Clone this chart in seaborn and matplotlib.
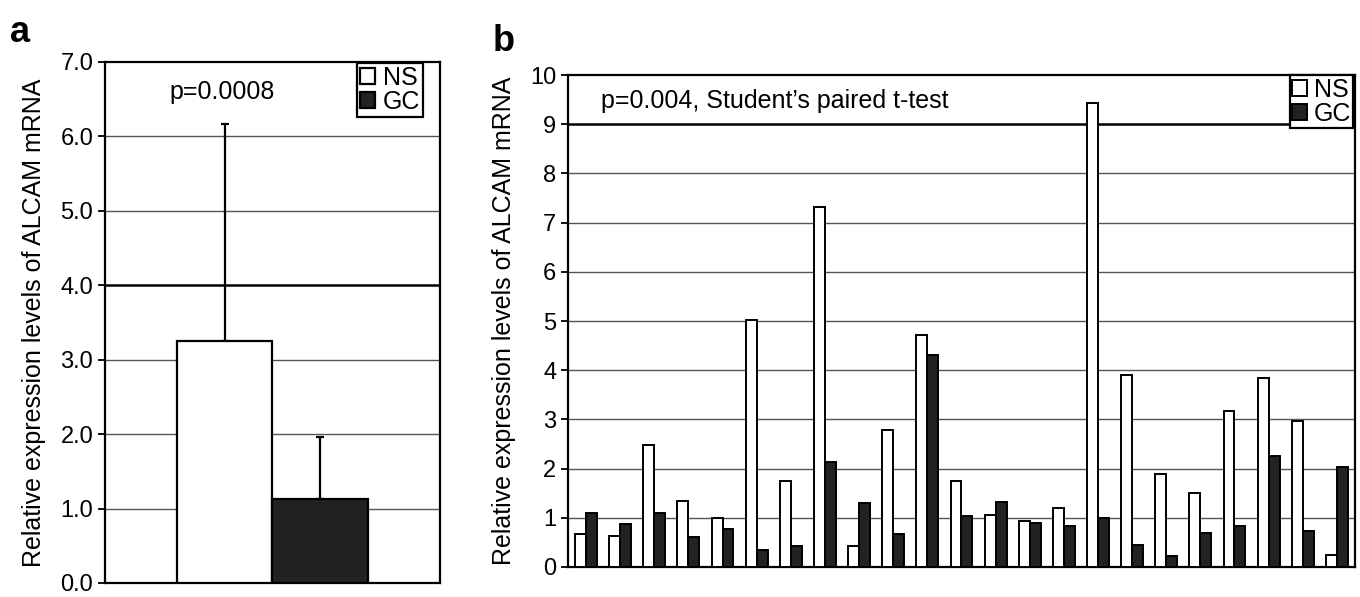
import pandas as pd
import seaborn as sns
import matplotlib.pyplot as plt

# panel a: mean expression and upper error
groups = ['NS', 'GC']
means_a = [3.25, 1.13]
err_a = [2.92, 0.83]

# panel b: paired samples
ns_b = [0.67, 0.62, 2.48, 1.35, 1.0, 5.03, 1.74, 7.32, 0.43, 2.78, 4.72, 1.74,
        1.05, 0.93, 1.19, 9.43, 3.91, 1.88, 1.5, 3.17, 3.85, 2.97, 0.25]
gc_b = [1.1, 0.88, 1.1, 0.6, 0.77, 0.35, 0.43, 2.13, 1.3, 0.68, 4.3, 1.03,
        1.33, 0.89, 0.84, 1.0, 0.45, 0.23, 0.7, 0.84, 2.25, 0.74, 2.03]

sns.set_style('ticks')
plt.rcParams['font.family'] = ['Liberation Sans', 'DejaVu Sans']
plt.rcParams['text.color'] = 'black'
plt.rcParams['axes.labelcolor'] = 'black'
plt.rcParams['xtick.color'] = 'black'
plt.rcParams['ytick.color'] = 'black'

pal = {'NS': 'white', 'GC': '#222222'}
ylab = 'Relative expression levels of ALCAM mRNA'
fs = 18

fig = plt.figure(figsize=(13.6, 5.97), dpi=100)
ax1 = fig.add_axes([0.0772, 0.0235, 0.2463, 0.8727])
ax2 = fig.add_axes([0.4176, 0.0503, 0.5787, 0.824])

# ---- panel a
df_a = pd.DataFrame({'x': ['all'] * 2, 'tissue': groups, 'val': means_a})
sns.barplot(data=df_a, x='x', y='val', hue='tissue', palette=pal, ax=ax1,
            edgecolor='black', linewidth=1.6, width=0.8, zorder=3)
for p, e in zip(ax1.patches[:2], err_a):
    xc = p.get_x() + p.get_width() / 2
    ax1.errorbar(xc, p.get_height(), yerr=[[0], [e]], fmt='none', ecolor='black',
                 elinewidth=1.6, capsize=3, capthick=1.6, zorder=2)
ax1.set_xlim(-0.7, 0.7)
ax1.set_ylim(0, 7)
ax1.set_yticks(range(8))
ax1.set_yticklabels([f'{v:.1f}' for v in range(8)])
for v in range(1, 7):
    if v == 4:
        ax1.axhline(v, color='black', lw=1.8, zorder=1)
    else:
        ax1.axhline(v, color='#555555', lw=1.0, zorder=1)
ax1.set_xticks([])
ax1.set_xlabel('')
ax1.set_ylabel(ylab, fontsize=fs, labelpad=10)
ax1.tick_params(axis='y', labelsize=17, length=5, width=1.3)
ax1.text(-0.21, 6.6, 'p=0.0008', ha='center', va='center', fontsize=fs)
ax1.legend(loc='upper right', fontsize=fs, frameon=True, fancybox=False,
           edgecolor='black', handlelength=0.6, handleheight=0.6,
           handletextpad=0.3, borderpad=0.12, labelspacing=0.0,
           borderaxespad=0.0, bbox_to_anchor=(0.95, 0.998),
           framealpha=1).get_frame().set_linewidth(1.6)
for s in ax1.spines.values():
    s.set_linewidth(1.6)
    s.set_color('black')

# ---- panel b
n = len(ns_b)
df_b = pd.DataFrame({'sample': list(range(n)) * 2,
                     'tissue': ['NS'] * n + ['GC'] * n,
                     'val': ns_b + gc_b})
sns.barplot(data=df_b, x='sample', y='val', hue='tissue', palette=pal, ax=ax2,
            edgecolor='black', linewidth=1.4, width=0.64, zorder=3)
ax2.set_xlim(-0.53, n - 1 + 0.53)
ax2.set_ylim(0, 10)
ax2.set_yticks(range(11))
for v in range(1, 10):
    if v == 9:
        ax2.axhline(v, color='black', lw=1.8, zorder=1)
    else:
        ax2.axhline(v, color='#555555', lw=1.0, zorder=1)
ax2.set_xticks([])
ax2.set_xlabel('')
ax2.set_ylabel(ylab, fontsize=fs, labelpad=10)
ax2.tick_params(axis='y', labelsize=17, length=5, width=1.3)
ax2.text(0.45, 9.47, 'p=0.004, Student\u2019s paired t-test', ha='left', va='center', fontsize=fs)
ax2.legend(loc='upper right', fontsize=fs, frameon=True, fancybox=False,
           edgecolor='black', handlelength=0.6, handleheight=0.6,
           handletextpad=0.25, borderpad=0.1, labelspacing=0.0,
           borderaxespad=0.0, bbox_to_anchor=(0.998, 1.0),
           framealpha=1).get_frame().set_linewidth(1.6)
for s in ax2.spines.values():
    s.set_linewidth(1.6)
    s.set_color('black')

fig.text(0.007, 0.93, 'a', fontsize=26, fontweight='bold')
fig.text(0.362, 0.915, 'b', fontsize=26, fontweight='bold')

fig.savefig('out.png', dpi=100)
